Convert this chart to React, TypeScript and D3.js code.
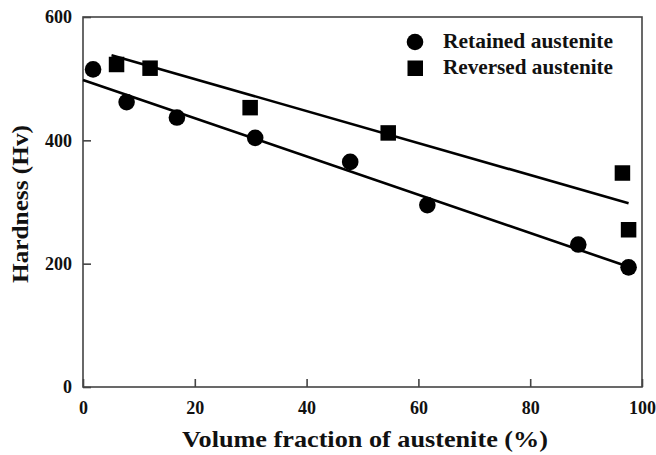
import { useEffect, useRef } from "react";
import * as d3 from "d3";

// retained austenite (circles)
const retainedX = [1.8, 7.8, 16.8, 30.8, 47.8, 61.6, 88.6, 97.6];
const retainedY = [515, 462, 437, 404, 365, 295, 231, 194];
// reversed austenite (squares)
const reversedX = [6.0, 12.0, 29.9, 54.6, 96.5, 97.6];
const reversedY = [523, 517, 453, 412, 347, 255];
// fitted lines [x0, y0, x1, y1]
const retainedFit = [0, 498, 97.6, 195];
const reversedFit = [5.1, 538, 97.6, 298];

const xTicks = [0, 20, 40, 60, 80, 100];
const yTicks = [0, 200, 400, 600];
const legendLabels = ["Retained austenite", "Reversed austenite"];

const FONT = "'Liberation Serif', 'Times New Roman', serif";

export default function App() {
  const ref = useRef<SVGSVGElement>(null);

  useEffect(() => {
    if (!ref.current) return;
    const W = 656, H = 455;
    const m = { top: 17, right: 14, bottom: 68, left: 83 };
    const iW = W - m.left - m.right;
    const iH = H - m.top - m.bottom;

    const root = d3.select(ref.current);
    root.selectAll("*").remove();
    const svg = root.append("g").attr("transform", `translate(${m.left},${m.top})`);

    const x = d3.scaleLinear().domain([0, 100]).range([0, iW]);
    const y = d3.scaleLinear().domain([0, 600]).range([iH, 0]);

    // frame
    svg.append("rect")
      .attr("x", 0).attr("y", 0).attr("width", iW).attr("height", iH)
      .attr("fill", "none").attr("stroke", "#444").attr("stroke-width", 1.6);

    // axes with inward ticks
    svg.append("g")
      .attr("transform", `translate(0,${iH})`)
      .call(d3.axisBottom(x).tickValues(xTicks).tickSize(-8).tickPadding(14))
      .call(g => g.select(".domain").remove())
      .call(g => g.selectAll("line").attr("stroke", "#444").attr("stroke-width", 1.6))
      .selectAll("text")
      .style("font-family", FONT).style("font-size", "18px").style("font-weight", "bold").attr("fill", "#111");

    svg.append("g")
      .call(d3.axisLeft(y).tickValues(yTicks).tickSize(-8).tickPadding(11))
      .call(g => g.select(".domain").remove())
      .call(g => g.selectAll("line").attr("stroke", "#444").attr("stroke-width", 1.6))
      .selectAll("text")
      .style("font-family", FONT).style("font-size", "18px").style("font-weight", "bold").attr("fill", "#111");

    // fitted lines
    [retainedFit, reversedFit].forEach(f => {
      svg.append("line")
        .attr("x1", x(f[0])).attr("y1", y(f[1]))
        .attr("x2", x(f[2])).attr("y2", y(f[3]))
        .attr("stroke", "#000").attr("stroke-width", 2.6);
    });

    // points
    svg.selectAll(".ret")
      .data(retainedX.map((v, i) => [v, retainedY[i]]))
      .join("circle")
      .attr("cx", d => x(d[0])).attr("cy", d => y(d[1]))
      .attr("r", 8.3).attr("fill", "#000");

    const s = 15.5;
    svg.selectAll(".rev")
      .data(reversedX.map((v, i) => [v, reversedY[i]]))
      .join("rect")
      .attr("x", d => x(d[0]) - s / 2).attr("y", d => y(d[1]) - s / 2)
      .attr("width", s).attr("height", s).attr("fill", "#000");

    // legend
    const lg = root.append("g").attr("transform", "translate(415,42)");
    lg.append("circle").attr("cx", 0).attr("cy", 0).attr("r", 8.3).attr("fill", "#000");
    lg.append("rect").attr("x", -7.5).attr("y", 26 - 7.5).attr("width", 15.5).attr("height", 15.5).attr("fill", "#000");
    legendLabels.forEach((t, i) => {
      lg.append("text")
        .attr("x", 28).attr("y", i * 25.6 + 6)
        .attr("textLength", 170).attr("lengthAdjust", "spacingAndGlyphs")
        .style("font-family", FONT).style("font-size", "21px").style("font-weight", "bold")
        .attr("fill", "#111").text(t);
    });

    // axis titles
    root.append("text")
      .attr("x", 365).attr("y", 447)
      .attr("text-anchor", "middle")
      .attr("textLength", 366).attr("lengthAdjust", "spacingAndGlyphs")
      .style("font-family", FONT).style("font-size", "23px").style("font-weight", "bold")
      .attr("fill", "#111").text("Volume fraction of austenite (%)");

    root.append("text")
      .attr("transform", "translate(28,204) rotate(-90)")
      .attr("text-anchor", "middle")
      .attr("textLength", 158).attr("lengthAdjust", "spacingAndGlyphs")
      .style("font-family", FONT).style("font-size", "23px").style("font-weight", "bold")
      .attr("fill", "#111").text("Hardness (Hv)");
  }, []);

  return (
    <svg ref={ref} width={656} height={455}
      style={{ position: "absolute", left: 0, top: 0, display: "block", background: "#fff" }} />
  );
}
